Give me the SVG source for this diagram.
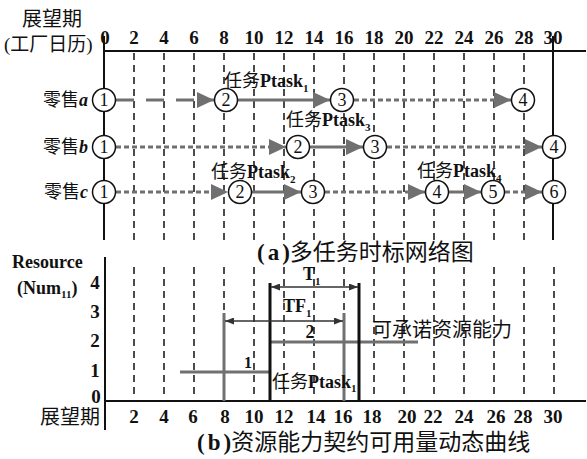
<svg xmlns="http://www.w3.org/2000/svg" width="587" height="459" viewBox="0 0 587 459">
<defs>
<style>
.t{font-family:"Liberation Serif","Noto Sans CJK SC",serif;fill:#111}
.b{font-weight:bold}
.n{font-size:19px;text-anchor:middle;font-weight:bold}
.lab{font-size:18px}
.cap{font-size:23px}
.grid{stroke:#111;stroke-width:1.5;stroke-dasharray:7,5;fill:none}
.ax{stroke:#111;stroke-width:2;fill:none}
.g{stroke:#707070;stroke-width:3;fill:none}
.gs{stroke:#707070;stroke-width:3;fill:none;marker-end:url(#ga)}
.gd{stroke:#707070;stroke-width:3;fill:none;stroke-dasharray:5,3;marker-end:url(#ga)}
.gl{stroke:#707070;stroke-width:3;fill:none;stroke-dasharray:18,12;marker-end:url(#ga)}
.nd circle{fill:#fff;stroke:#111;stroke-width:1.5}
.nd text{font-family:"Liberation Serif",serif;font-size:18px;text-anchor:middle;fill:#111}
.k{stroke:#111;stroke-width:3;fill:none}
.da{stroke:#333;stroke-width:1.5;fill:none;marker-start:url(#ka);marker-end:url(#ka)}
</style>
<marker id="ga" markerUnits="userSpaceOnUse" markerWidth="18" markerHeight="16" refX="17" refY="8" orient="auto"><path d="M0,0 L17,8 L0,16 z" fill="#707070"/></marker>
<marker id="ka" markerUnits="userSpaceOnUse" markerWidth="9" markerHeight="7" refX="9" refY="3.5" orient="auto-start-reverse"><path d="M0,0 L9,3.5 L0,7 z" fill="#333"/></marker>
</defs>
<rect width="587" height="459" fill="#fff"/>

<!-- top chart axes and labels -->
<g id="top-axis">
<text class="t" x="22" y="26" font-size="20">展望期</text>
<text class="t" x="4" y="51" font-size="19">(工厂日历)</text>
<line class="ax" x1="103" y1="51" x2="586" y2="51"/>
<line class="ax" x1="104" y1="36" x2="104" y2="240"/>
<line class="ax" x1="553" y1="36" x2="553" y2="240"/>
<g class="t n">
<text x="105" y="44">0</text><text x="134" y="44">2</text><text x="164" y="44">4</text><text x="194" y="44">6</text><text x="224" y="44">8</text><text x="254" y="44">10</text><text x="284" y="44">12</text><text x="314" y="44">14</text><text x="344" y="44">16</text><text x="374" y="44">18</text><text x="404" y="44">20</text><text x="434" y="44">22</text><text x="464" y="44">24</text><text x="494" y="44">26</text><text x="524" y="44">28</text><text x="553" y="44">30</text>
</g>
<path class="grid" d="M134,53V240M164,53V240M194,53V240M224,53V240M254,53V240M284,53V240M314,53V240M344,53V240M374,53V240M404,53V240M434,53V240M464,53V240M494,53V240M524,53V240"/>
<text class="t lab" x="88" y="106" text-anchor="end">零售<tspan font-style="italic" font-weight="bold">a</tspan></text>
<text class="t lab" x="88" y="153" text-anchor="end">零售<tspan font-style="italic" font-weight="bold">b</tspan></text>
<text class="t lab" x="88" y="198" text-anchor="end">零售<tspan font-style="italic" font-weight="bold">c</tspan></text>
</g>

<g id="connectors">
<line class="gl" x1="116" y1="100" x2="214" y2="100"/>
<line class="gs" x1="238" y1="100" x2="330" y2="100"/>
<line class="gd" x1="354" y1="100" x2="511" y2="100"/>
<line class="gd" x1="116" y1="147" x2="286" y2="147"/>
<line class="gs" x1="310" y1="147" x2="363" y2="147"/>
<line class="gd" x1="387" y1="147" x2="542" y2="147"/>
<line class="gd" x1="116" y1="192" x2="228" y2="192"/>
<line class="gs" x1="252" y1="192" x2="301" y2="192"/>
<line class="gd" x1="325" y1="192" x2="425" y2="192"/>
<line class="gs" x1="449" y1="192" x2="481" y2="192"/>
<line class="gd" x1="505" y1="192" x2="542" y2="192"/>
<text class="t lab" x="224" y="87">任务<tspan class="b">Ptask</tspan><tspan class="b" font-size="11" dy="5">1</tspan></text>
<text class="t lab" x="286" y="126">任务<tspan class="b">Ptask</tspan><tspan class="b" font-size="11" dy="5">3</tspan></text>
<text class="t lab" x="211" y="178">任务<tspan class="b">Ptask</tspan><tspan class="b" font-size="11" dy="5">2</tspan></text>
<text class="t lab" x="417" y="177">任务<tspan class="b">Ptask</tspan><tspan class="b" font-size="11" dy="5">4</tspan></text>
</g>

<g id="a1" class="nd"><circle cx="104" cy="100" r="11.5"/><text x="104" y="106">1</text></g>
<g id="a2" class="nd"><circle cx="226" cy="100" r="11.5"/><text x="226" y="106">2</text></g>
<g id="a3" class="nd"><circle cx="342" cy="100" r="11.5"/><text x="342" y="106">3</text></g>
<g id="a4" class="nd"><circle cx="523" cy="100" r="11.5"/><text x="523" y="106">4</text></g>
<g id="b1" class="nd"><circle cx="104" cy="147" r="11.5"/><text x="104" y="153">1</text></g>
<g id="b2" class="nd"><circle cx="298" cy="147" r="11.5"/><text x="298" y="153">2</text></g>
<g id="b3" class="nd"><circle cx="375" cy="147" r="11.5"/><text x="375" y="153">3</text></g>
<g id="b4" class="nd"><circle cx="554" cy="147" r="11.5"/><text x="554" y="153">4</text></g>
<g id="c1" class="nd"><circle cx="104" cy="192" r="11.5"/><text x="104" y="198">1</text></g>
<g id="c2" class="nd"><circle cx="240" cy="192" r="11.5"/><text x="240" y="198">2</text></g>
<g id="c3" class="nd"><circle cx="313" cy="192" r="11.5"/><text x="313" y="198">3</text></g>
<g id="c4" class="nd"><circle cx="437" cy="192" r="11.5"/><text x="437" y="198">4</text></g>
<g id="c5" class="nd"><circle cx="493" cy="192" r="11.5"/><text x="493" y="198">5</text></g>
<g id="c6" class="nd"><circle cx="554" cy="192" r="11.5"/><text x="554" y="198">6</text></g>

<text class="t cap" x="257" y="260"><tspan class="b" letter-spacing="3">(a</tspan><tspan class="b">)</tspan>多任务时标网络图</text>

<!-- bottom chart -->
<g id="bottom-chart">
<text class="t b" x="12" y="268" font-size="18">Resource</text>
<text class="t b" x="17" y="294" font-size="18">(Num<tspan font-size="11" dy="4">11</tspan><tspan dy="-4">)</tspan></text>
<g class="t b" font-size="19" text-anchor="middle">
<text x="95" y="289">4</text><text x="95" y="318">3</text><text x="95" y="347">2</text><text x="95" y="377">1</text><text x="96" y="403">0</text>
</g>
<path class="grid" d="M134,267V398M164,267V398M194,267V398M224,267V398M254,267V398M284,267V398M314,267V398M344,267V398M374,267V398M404,267V398M434,267V398M464,267V398M494,267V398M524,267V398M554,267V398"/>
<line class="ax" x1="105" y1="257" x2="105" y2="430"/>
<line class="ax" x1="105" y1="401" x2="586" y2="401"/>
<text class="t" x="40" y="424" font-size="20">展望期</text>
<g class="t n">
<text x="134" y="423">2</text><text x="164" y="423">4</text><text x="193" y="423">6</text><text x="225" y="423">8</text><text x="254" y="423">10</text><text x="284" y="423">12</text><text x="316" y="423">14</text><text x="343" y="423">16</text><text x="372" y="423">18</text><text x="407" y="423">20</text><text x="433" y="423">22</text><text x="464" y="423">24</text><text x="496" y="423">26</text><text x="523" y="423">28</text><text x="553" y="423">30</text>
</g>
<line class="g" x1="180" y1="372" x2="270" y2="372"/>
<line class="g" x1="224" y1="313" x2="224" y2="401"/>
<line class="g" x1="270" y1="342" x2="418" y2="342"/>
<line class="g" x1="344" y1="313" x2="344" y2="401"/>
<line class="k" x1="270" y1="283" x2="270" y2="401"/>
<line class="k" x1="359" y1="283" x2="359" y2="401"/>
<line class="da" x1="271" y1="287" x2="358" y2="287"/>
<line class="da" x1="225" y1="321" x2="343" y2="321"/>
<text class="t b" x="303" y="280" font-size="18">T<tspan font-size="11" dy="5">1</tspan></text>
<text class="t b" x="283" y="312" font-size="18">TF<tspan font-size="11" dy="5">1</tspan></text>
<text class="t b" x="310" y="338" font-size="18" text-anchor="middle">2</text>
<text class="t b" x="248" y="368" font-size="16" text-anchor="middle">1</text>
<text class="t lab" x="272" y="388">任务<tspan class="b">Ptask</tspan><tspan class="b" font-size="11" dy="4">1</tspan></text>
<text class="t" x="372" y="337" font-size="20">可承诺资源能力</text>
</g>

<text class="t cap" x="197" y="450"><tspan class="b" letter-spacing="3">(b</tspan><tspan class="b">)</tspan>资源能力契约可用量动态曲线</text>
</svg>
